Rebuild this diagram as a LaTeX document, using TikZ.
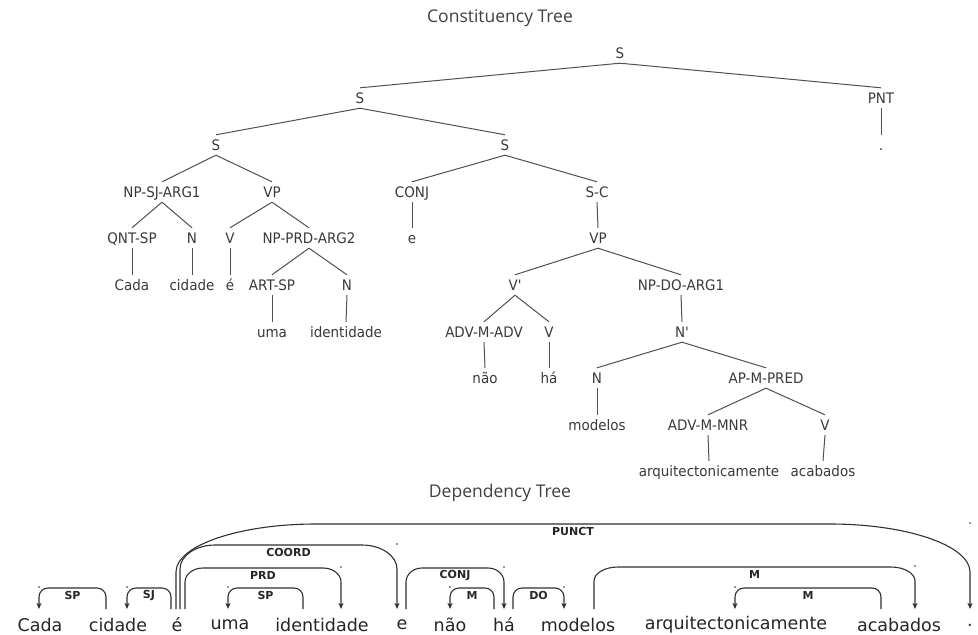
\documentclass[tikz,border=0pt]{standalone}
\usepackage{fontspec}
\setmainfont{DejaVu Sans}
\newfontfamily\titlefont{Open Sans}
\newfontfamily\labfont[FakeStretch=0.93]{DejaVu Sans}
\usetikzlibrary{arrows.meta,calc}
\definecolor{treeline}{HTML}{505050}
\definecolor{treetext}{HTML}{3A3A3A}
\definecolor{depline}{HTML}{303030}
\tikzset{
  cl/.style={font=\labfont\fontsize{14.5}{16}\selectfont, text=treetext, inner xsep=1pt, inner ysep=3pt, text height=12.3pt, text depth=1.7pt},
  tl/.style={draw=treeline, line width=1pt},
  ttl/.style={font=\titlefont\fontsize{17.5}{20}\selectfont, text=black!75},
  dw/.style={font=\fontsize{17.5}{20}\selectfont, text=black!85, inner sep=0pt},
  dep/.style={draw=depline, line width=1.1pt},
  deplab/.style={font=\bfseries\fontsize{11}{13}\selectfont, text=black!85, inner sep=0pt},
}
\newcommand\deparc[7]{%
  \pgfmathsetmacro\depdir{(#3>#2)?1:-1}%
  \coordinate (#1-a) at (#2,609);
  \coordinate (#1-b) at (#3,609);
  \draw[dep,-{Stealth[length=6pt,width=5pt,inset=1.5pt]}] (#1-a) -- (#2,{#4+#6})
    .. controls (#2,{#4+0.45*#6}) and ({#2+\depdir*0.45*#5},#4) .. ({#2+\depdir*#5},#4)
    -- ({#3-\depdir*#5},#4)
    .. controls ({#3-\depdir*0.45*#5},#4) and (#3,{#4+0.45*#6}) .. (#3,{#4+#6})
    -- (#1-b);
  \node[deplab] (#1-l) at ({(#2+#3)/2},{#4+7.5}) {#7};
  \fill[depline] (#3,{#4-1}) circle (0.8);
}
\begin{document}
\begin{tikzpicture}[x=1pt,y=-1pt]
\useasboundingbox[fill=white] (0,0) rectangle (978,635);

% titles
\node[ttl] (t1) at (500,18) {Constituency Tree};
\node[ttl] (t2) at (500,493) {Dependency Tree};

% constituency tree nodes
\node[cl] (s0) at (620,53) {S};
\node[cl] (s1) at (360,98) {S};
\node[cl] (pnt) at (881,98) {PNT};
\node[cl] (pdot) at (881,145) {.};
\node[cl] (s2) at (216,145) {S};
\node[cl] (s3) at (505,145) {S};
\node[cl] (npsj) at (162,192) {NP-SJ-ARG1};
\node[cl] (vp1) at (272,192) {VP};
\node[cl] (conj) at (412,192) {CONJ};
\node[cl] (sc) at (597,192) {S-C};
\node[cl] (qnt) at (132,238) {QNT-SP};
\node[cl] (n1) at (192,238) {N};
\node[cl] (v1) at (230,238) {V};
\node[cl] (nprd) at (309,238) {NP-PRD-ARG2};
\node[cl] (we) at (412,238) {e};
\node[cl] (vp2) at (598,238) {VP};
\node[cl] (cada) at (132,285) {Cada};
\node[cl] (cidade) at (192,285) {cidade};
\node[cl] (ea) at (230,285) {é};
\node[cl] (art) at (272,285) {ART-SP};
\node[cl] (n2) at (347,285) {N};
\node[cl] (vbar) at (515,285) {V'};
\node[cl] (npdo) at (681,285) {NP-DO-ARG1};
\node[cl] (uma) at (272,332) {uma};
\node[cl] (ident) at (346,332) {identidade};
\node[cl] (advm) at (484,332) {ADV-M-ADV};
\node[cl] (v2) at (549,332) {V};
\node[cl] (nbar) at (682,332) {N'};
\node[cl] (nao) at (485,378) {não};
\node[cl] (ha) at (549,378) {há};
\node[cl] (n3) at (597,378) {N};
\node[cl] (ap) at (766,378) {AP-M-PRED};
\node[cl] (modelos) at (597,425) {modelos};
\node[cl] (advmnr) at (708,425) {ADV-M-MNR};
\node[cl] (v3) at (825,425) {V};
\node[cl] (arq) at (709,471) {arquitectonicamente};
\node[cl] (acab) at (823,471) {acabados};

% constituency edges
\foreach \p/\c in {s0/s1, s0/pnt, pnt/pdot, s1/s2, s1/s3, s2/npsj, s2/vp1, s3/conj, s3/sc,
  npsj/qnt, npsj/n1, vp1/v1, vp1/nprd, conj/we, sc/vp2, qnt/cada, n1/cidade, v1/ea,
  nprd/art, nprd/n2, vp2/vbar, vp2/npdo, art/uma, n2/ident, vbar/advm, vbar/v2, npdo/nbar,
  advm/nao, v2/ha, nbar/n3, nbar/ap, n3/modelos, ap/advmnr, ap/v3, advmnr/arq, v3/acab}
  \draw[tl] (\p.south) -- (\c.north);

% dependency words
\node[dw] (w1) at (40,625) {Cada};
\node[dw] (w2) at (118,625) {cidade};
\node[dw] (w3) at (177,625) {é};
\node[dw] (w4) at (230,625) {uma};
\node[dw] (w5) at (322,625) {identidade};
\node[dw] (w6) at (402,625) {e};
\node[dw] (w7) at (450,625) {não};
\node[dw] (w8) at (504,625) {há};
\node[dw] (w9) at (578,625) {modelos};
\node[dw] (w10) at (736,625) {arquitectonicamente};
\node[dw] (w11) at (899,625) {acabados};
\node[dw] (w12) at (970,625) {.};

% dependency arcs: name, from x, to x (arrow), top y, corner dx, corner dy, label
\deparc{sp1}{106}{39}{588}{9}{9}{SP}
\deparc{sj}{171}{127}{588}{9}{9}{SJ}
\deparc{prd}{185}{341}{568}{18}{14}{PRD}
\deparc{coord}{180}{397}{545}{35}{24}{COORD}
\deparc{punct}{176}{970}{524}{140}{48}{PUNCT}
\deparc{sp2}{303}{228}{588}{9}{9}{SP}
\deparc{conj}{406}{504}{568}{16}{14}{CONJ}
\deparc{m1}{494}{450}{588}{9}{9}{M}
\deparc{do}{513}{564}{588}{9}{9}{DO}
\deparc{m2}{594}{915}{567}{24}{14}{M}
\deparc{m3}{881}{735}{588}{9}{9}{M}
\end{tikzpicture}
\end{document}
